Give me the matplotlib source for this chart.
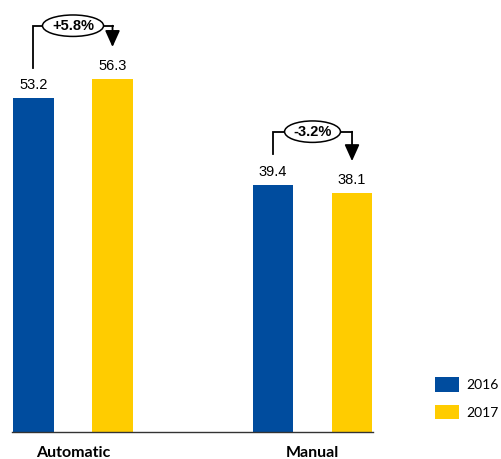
import matplotlib.pyplot as plt
import numpy as np

categories = ["Automatic", "Manual"]
years = ["2016", "2017"]
values_2016 = [53.2, 39.4]
values_2017 = [56.3, 38.1]
pct_change = [5.8, -3.2]

BLUE = "#004C9E"
YELLOW = "#FFCC00"

fig = plt.figure(figsize=(5.01, 4.59), dpi=100)
ax = fig.add_axes([12/501, 27/459, 361/501, 432/459])

x = np.arange(len(categories))
off = 0.165
w = 0.171
ax.bar(x - off, values_2016, w, color=BLUE, label=years[0])
ax.bar(x + off, values_2017, w, color=YELLOW, label=years[1])

for xi, a, b in zip(x, values_2016, values_2017):
    ax.text(xi - off, a + 1.0, f"{a:.1f}", ha="center", va="bottom",
            fontsize=10.5, family="Liberation Sans")
    ax.text(xi + off, b + 1.0, f"{b:.1f}", ha="center", va="bottom",
            fontsize=10.5, family="Liberation Sans")

# change brackets: up from the 2016 label, across, down to the 2017 label
for xi, a, b, p in zip(x, values_2016, values_2017, pct_change):
    lvl = max(a, b) + 8.5
    ax.plot([xi - off, xi - off, xi + off, xi + off],
            [a + 4.9, lvl, lvl, lvl], color="black", lw=1.3,
            solid_joinstyle="miter", zorder=3)
    ax.annotate("", xy=(xi + off, b + 5.1), xytext=(xi + off, lvl),
                arrowprops=dict(arrowstyle="-|>,head_length=1.0,head_width=0.45",
                                color="black", lw=1.3, shrinkA=0, shrinkB=0),
                zorder=3)
    ax.text(xi, lvl, f"{p:+.1f}%", ha="center", va="center", fontsize=10.5,
            fontweight="bold", family="Liberation Sans", zorder=4,
            bbox=dict(boxstyle="ellipse,pad=0.04", fc="white", ec="black", lw=1.1))

ax.set_xlim(-0.2547, 1.2526)
ax.set_ylim(0, 432/6.27)
ax.set_xticks(x)
ax.set_xticklabels(categories, fontsize=11.5, fontweight="bold", family="Lato")
ax.tick_params(axis="x", length=0, pad=10)
ax.set_yticks([])
for s in ["top", "right", "left"]:
    ax.spines[s].set_visible(False)
ax.spines["bottom"].set_linewidth(1.0)
ax.spines["bottom"].set_color("#333333")

fig.legend(loc="lower left", bbox_to_anchor=(429/501, 34/459), frameon=False,
           prop=dict(family="Lato", size=10), handlelength=1.73,
           handleheight=1.22, labelspacing=0.95, handletextpad=0.55,
           borderaxespad=0)

fig.savefig("out.png", dpi=100)
